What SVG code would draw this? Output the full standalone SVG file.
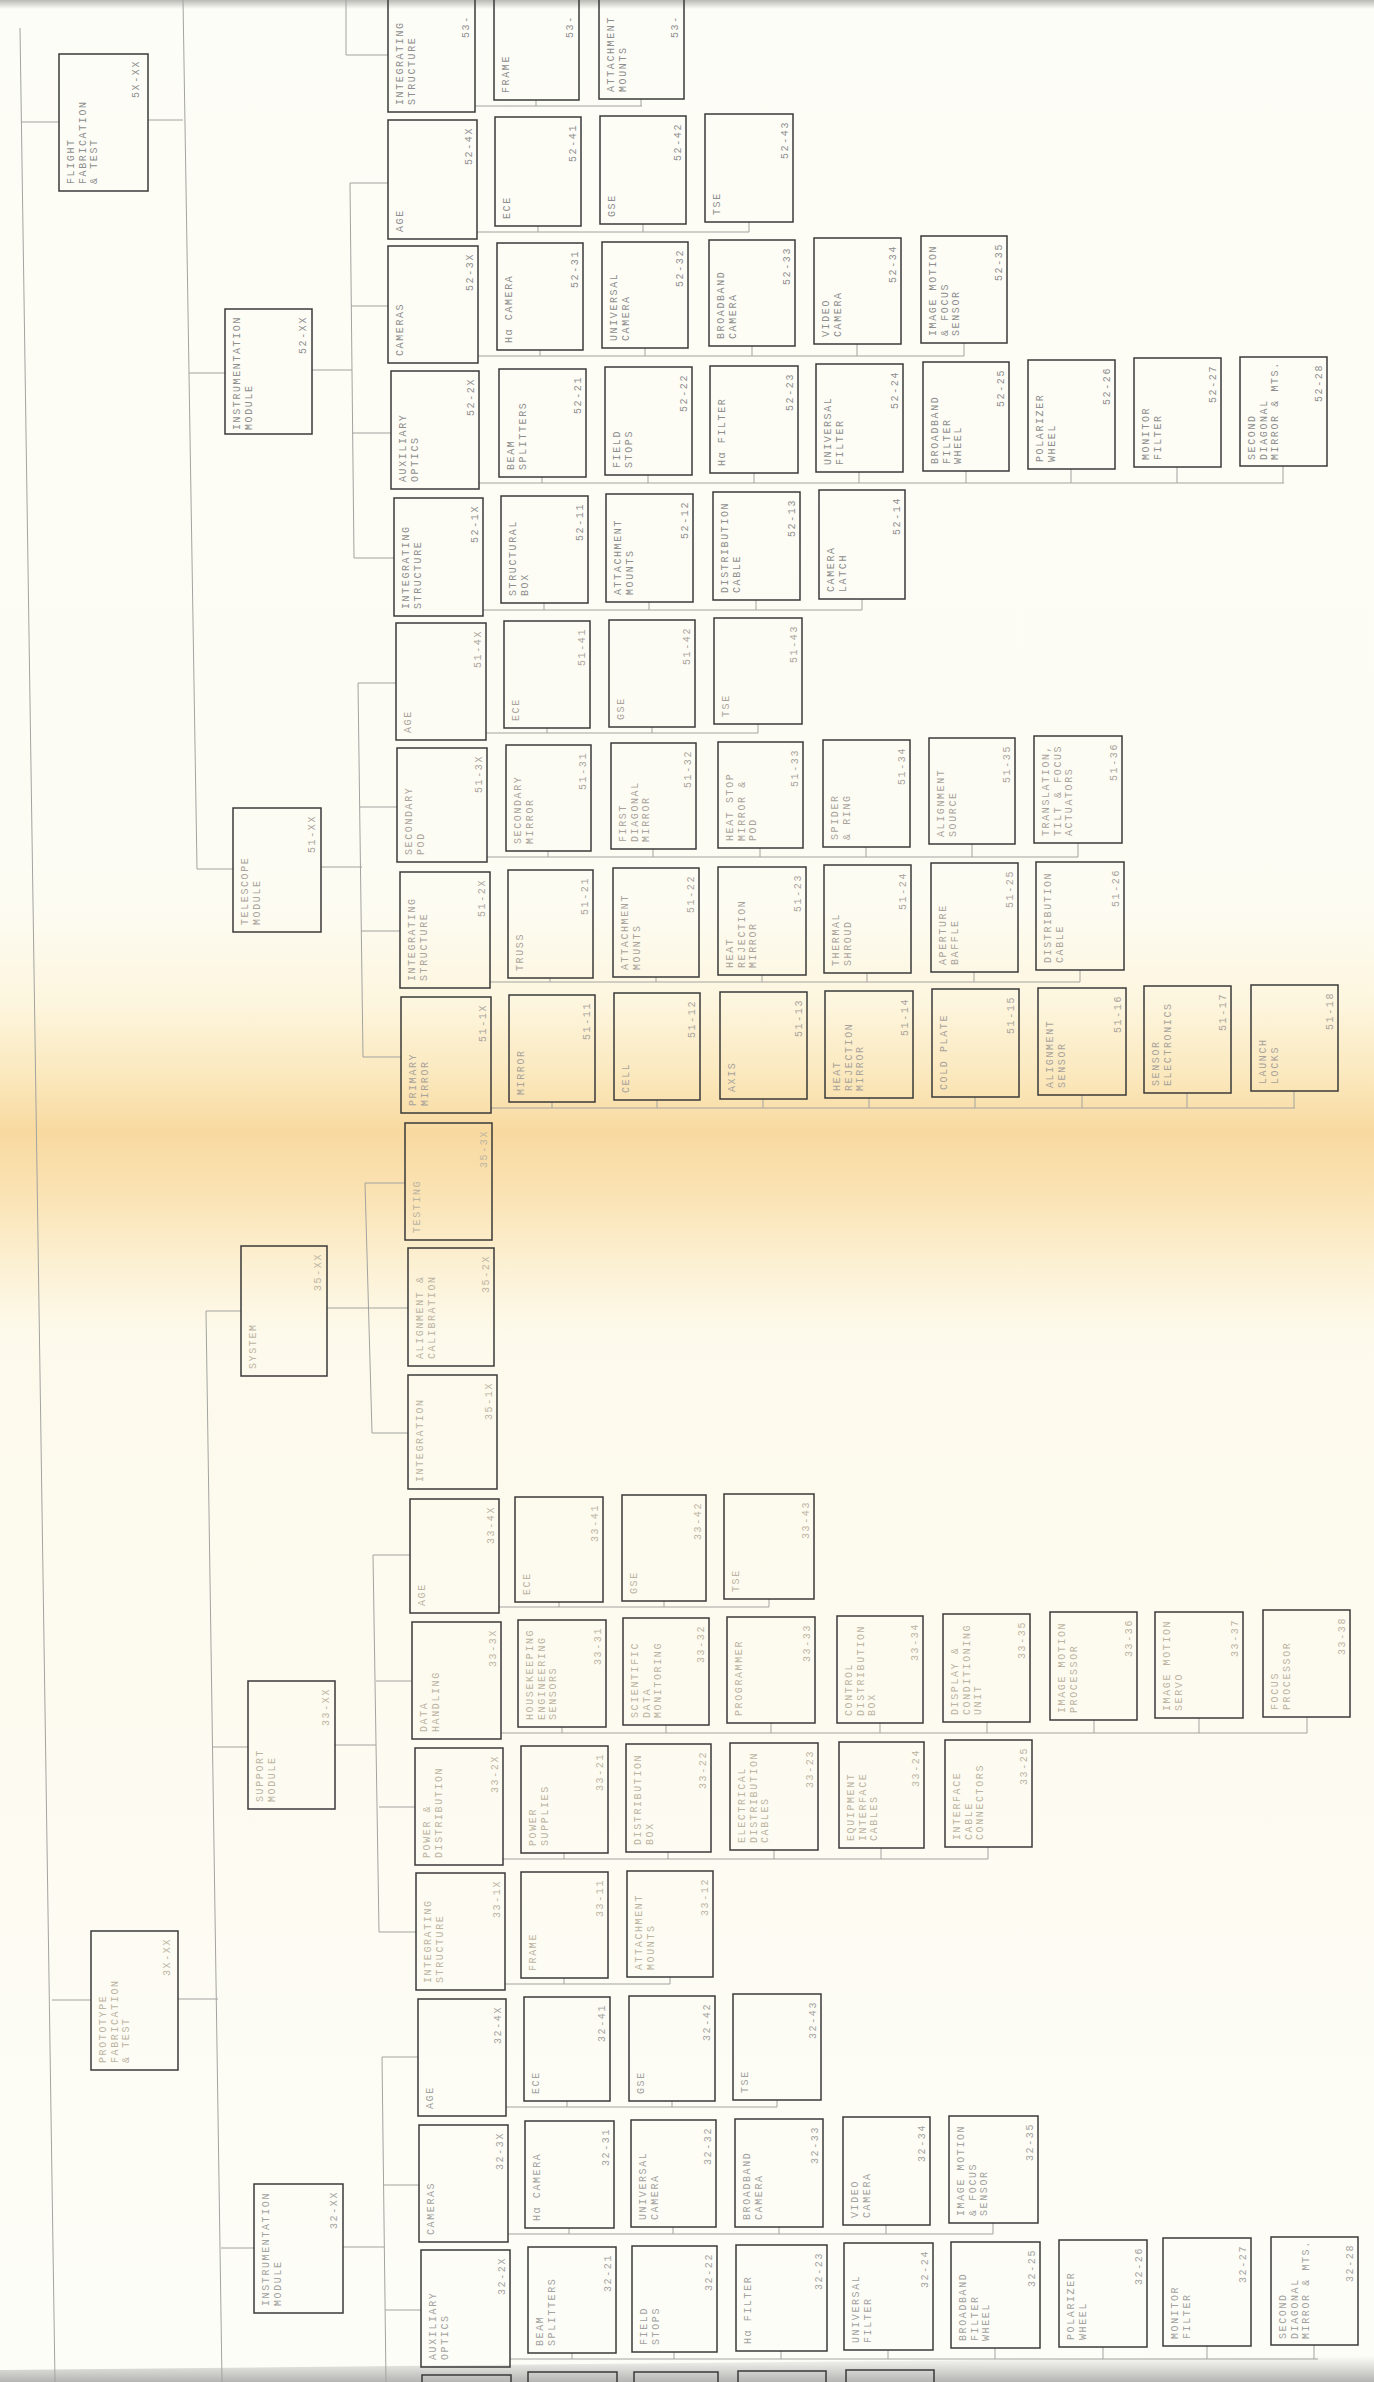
<svg xmlns="http://www.w3.org/2000/svg" width="1374" height="2382" viewBox="0 0 1374 2382">
<defs>
<linearGradient id="bg" x1="0" y1="0" x2="0" y2="1">
<stop offset="0" stop-color="#fdfdf7"/>
<stop offset="0.38" stop-color="#fdfcf3"/>
<stop offset="0.42" stop-color="#fdf6df"/>
<stop offset="0.45" stop-color="#fbe9bf"/>
<stop offset="0.475" stop-color="#f8daa0"/>
<stop offset="0.50" stop-color="#fae2b2"/>
<stop offset="0.53" stop-color="#fcf0d2"/>
<stop offset="0.56" stop-color="#fdfaec"/>
<stop offset="1" stop-color="#fdfdf8"/>
</linearGradient>
<linearGradient id="edgeT" x1="0" y1="0" x2="0" y2="1">
<stop offset="0" stop-color="#b9b9b5"/>
<stop offset="1" stop-color="#fdfdf7"/>
</linearGradient>
<linearGradient id="edgeB" x1="0" y1="0" x2="0" y2="1">
<stop offset="0" stop-color="#fdfdf8"/>
<stop offset="1" stop-color="#b5b6b3"/>
</linearGradient>
</defs>
<style>
.b{fill:none;stroke:#3a3a3a;stroke-width:1.5}
.t{font-family:"Liberation Mono",monospace;font-size:10px;letter-spacing:1.6px}
.ta{fill:#8e8e8e}
.tb{fill:#a9a39b}
.tc{fill:#bcb4a2}
.td{fill:#a2a2a0}
.ln{fill:none;stroke:#a3a3a0;stroke-width:1}
</style>
<rect x="0" y="0" width="1374" height="2382" fill="url(#bg)"/>
<rect x="0" y="0" width="1374" height="9" fill="url(#edgeT)"/>
<polygon points="0,2370 1374,2356 1374,2382 0,2382" fill="url(#edgeB)"/>

<g id="connectors" class="ln">
<path d="M20,28 L55,2382"/>
<path d="M21,122 H59 M148,120 H183"/>
<path d="M183,0 L197,869"/>
<path d="M189,373 H225 M312,370 H352"/>
<path d="M197,869 H233 M321,867 H362"/>
<path d="M346,0 V55 H388"/>
<path d="M475,106 H642 M536,100 V106 M641,99 V106"/>
<path d="M350,183 L354,558"/>
<path d="M350,183 H388 M351,306 H388 M352,433 H391 M354,558 H394"/>
<path d="M477,232 H749 M538,226 V232 M643,224 V232 M749,222 V232"/>
<path d="M478,356 H964 M540,350 V356 M645,348 V356 M752,346 V356 M857,344 V356 M964,343 V356"/>
<path d="M479,483 H1284 M542,477 V483 M648,475 V483 M754,473 V483 M859,472 V483 M966,471 V483 M1071,469 V483 M1177,467 V483 M1283,466 V483"/>
<path d="M483,610 H862 M544,603 V610 M649,602 V610 M756,600 V610 M862,599 V610"/>
<path d="M358,683 L363,1057"/>
<path d="M358,683 H396 M360,807 H397 M361,931 H400 M363,1057 H401"/>
<path d="M486,733 H758 M547,728 V733 M652,727 V733 M758,724 V733"/>
<path d="M487,857 H1078 M548,851 V857 M653,849 V857 M760,848 V857 M866,847 V857 M972,844 V857 M1078,843 V857"/>
<path d="M490,982 H1080 M550,978 V982 M656,977 V982 M762,975 V982 M867,973 V982 M974,972 V982 M1080,970 V982"/>
<path d="M491,1108 H1295 M552,1102 V1108 M657,1100 V1108 M763,1099 V1108 M869,1098 V1108 M975,1097 V1108 M1082,1095 V1108 M1187,1093 V1108 M1294,1091 V1108"/>
<path d="M206,1311 L222,2382"/>
<path d="M206,1311 H241"/>
<path d="M365,1183 L372,1433"/>
<path d="M365,1183 H405 M327,1308 H408 M372,1433 H408"/>
<path d="M213,1747 H248 M335,1745 H376"/>
<path d="M373,1555 L379,1932"/>
<path d="M373,1555 H410 M376,1681 H412 M379,1807 H415 M379,1932 H416"/>
<path d="M499,1607 H769 M559,1602 V1607 M664,1601 V1607 M769,1599 V1607"/>
<path d="M501,1733 H1307 M562,1727 V1733 M666,1725 V1733 M771,1723 V1733 M880,1723 V1733 M987,1722 V1733 M1094,1720 V1733 M1199,1718 V1733 M1307,1717 V1733"/>
<path d="M503,1859 H988 M564,1853 V1859 M668,1852 V1859 M774,1850 V1859 M881,1848 V1859 M988,1847 V1859"/>
<path d="M505,1984 H670 M564,1978 V1984 M670,1977 V1984"/>
<path d="M52,2000 H91 M178,1999 H218"/>
<path d="M221,2248 H254 M343,2247 H384"/>
<path d="M382,2057 L386,2382"/>
<path d="M382,2057 H418 M383,2185 H419 M385,2310 H421"/>
<path d="M506,2107 H777 M567,2101 V2107 M672,2101 V2107 M777,2100 V2107"/>
<path d="M508,2234 H993 M569,2228 V2234 M673,2227 V2234 M779,2227 V2234 M886,2225 V2234 M993,2223 V2234"/>
<path d="M510,2359 H1318 M572,2353 V2359 M674,2352 V2359 M781,2351 V2359 M888,2350 V2359 M995,2348 V2359 M1103,2347 V2359 M1207,2346 V2359 M1314,2345 V2359"/>
</g>

<!-- Level 1 -->
<g id="n5X-XX"><rect class="b" x="59" y="54" width="89" height="137"/><text class="t ta" transform="translate(74,184) rotate(-90)"><tspan x="0">FLIGHT</tspan><tspan x="0" dy="11.5">FABRICATION</tspan><tspan x="0" dy="11.5">&amp; TEST</tspan></text><text class="t ta" text-anchor="end" transform="translate(139,60) rotate(-90)">5X-XX</text></g>
<g id="n3X-XX"><rect class="b" x="91" y="1931" width="87" height="139"/><text class="t tc" transform="translate(106,2063) rotate(-90)"><tspan x="0">PROTOTYPE</tspan><tspan x="0" dy="11.5">FABRICATION</tspan><tspan x="0" dy="11.5">&amp; TEST</tspan></text><text class="t tc" text-anchor="end" transform="translate(170,1938) rotate(-90)">3X-XX</text></g>

<!-- Level 2 -->
<g id="n52-XX"><rect class="b" x="225" y="309" width="87" height="125"/><text class="t ta" transform="translate(240,430) rotate(-90)"><tspan x="0">INSTRUMENTATION</tspan><tspan x="0" dy="11.5">MODULE</tspan></text><text class="t ta" text-anchor="end" transform="translate(306,316) rotate(-90)">52-XX</text></g>
<g id="n51-XX"><rect class="b" x="233" y="808" width="88" height="124"/><text class="t tb" transform="translate(248,925) rotate(-90)"><tspan x="0">TELESCOPE</tspan><tspan x="0" dy="11.5">MODULE</tspan></text><text class="t tb" text-anchor="end" transform="translate(315,815) rotate(-90)">51-XX</text></g>
<g id="n35-XX"><rect class="b" x="241" y="1246" width="86" height="130"/><text class="t tc" transform="translate(256,1369) rotate(-90)">SYSTEM</text><text class="t tc" text-anchor="end" transform="translate(321,1253) rotate(-90)">35-XX</text></g>
<g id="n33-XX"><rect class="b" x="248" y="1681" width="87" height="128"/><text class="t tc" transform="translate(263,1802) rotate(-90)"><tspan x="0">SUPPORT</tspan><tspan x="0" dy="11.5">MODULE</tspan></text><text class="t tc" text-anchor="end" transform="translate(329,1688) rotate(-90)">33-XX</text></g>
<g id="n32-XX"><rect class="b" x="254" y="2184" width="89" height="129"/><text class="t td" transform="translate(269,2306) rotate(-90)"><tspan x="0">INSTRUMENTATION</tspan><tspan x="0" dy="11.5">MODULE</tspan></text><text class="t td" text-anchor="end" transform="translate(337,2191) rotate(-90)">32-XX</text></g>

<!-- Row 53 (cut) -->
<g id="n53-1X"><rect class="b" x="388" y="-6" width="87" height="118"/><text class="t ta" transform="translate(403,105) rotate(-90)"><tspan x="0">INTEGRATING</tspan><tspan x="0" dy="11.5">STRUCTURE</tspan></text><text class="t ta" transform="translate(469,38) rotate(-90)">53-</text></g>
<g id="n53-11"><rect class="b" x="494" y="-6" width="85" height="106"/><text class="t ta" transform="translate(509,93) rotate(-90)">FRAME</text><text class="t ta" transform="translate(573,38) rotate(-90)">53-</text></g>
<g id="n53-12"><rect class="b" x="599" y="-6" width="85" height="105"/><text class="t ta" transform="translate(614,92) rotate(-90)"><tspan x="0">ATTACHMENT</tspan><tspan x="0" dy="11.5">MOUNTS</tspan></text><text class="t ta" transform="translate(678,38) rotate(-90)">53-</text></g>

<!-- Row 52-4X -->
<g id="n52-4X"><rect class="b" x="388" y="120" width="89" height="119"/><text class="t ta" transform="translate(403,232) rotate(-90)">AGE</text><text class="t ta" text-anchor="end" transform="translate(472,127) rotate(-90)">52-4X</text></g>
<g id="n52-41"><rect class="b" x="495" y="117" width="86" height="109"/><text class="t ta" transform="translate(510,219) rotate(-90)">ECE</text><text class="t ta" text-anchor="end" transform="translate(576,124) rotate(-90)">52-41</text></g>
<g id="n52-42"><rect class="b" x="600" y="116" width="86" height="108"/><text class="t ta" transform="translate(615,217) rotate(-90)">GSE</text><text class="t ta" text-anchor="end" transform="translate(681,123) rotate(-90)">52-42</text></g>
<g id="n52-43"><rect class="b" x="705" y="114" width="88" height="108"/><text class="t ta" transform="translate(720,215) rotate(-90)">TSE</text><text class="t ta" text-anchor="end" transform="translate(788,121) rotate(-90)">52-43</text></g>

<!-- Row 52-3X -->
<g id="n52-3X"><rect class="b" x="388" y="246" width="90" height="117"/><text class="t ta" transform="translate(403,356) rotate(-90)">CAMERAS</text><text class="t ta" text-anchor="end" transform="translate(473,253) rotate(-90)">52-3X</text></g>
<g id="n52-31"><rect class="b" x="497" y="243" width="86" height="107"/><text class="t ta" transform="translate(512,343) rotate(-90)">Hα CAMERA</text><text class="t ta" text-anchor="end" transform="translate(578,250) rotate(-90)">52-31</text></g>
<g id="n52-32"><rect class="b" x="602" y="242" width="86" height="106"/><text class="t ta" transform="translate(617,341) rotate(-90)"><tspan x="0">UNIVERSAL</tspan><tspan x="0" dy="11.5">CAMERA</tspan></text><text class="t ta" text-anchor="end" transform="translate(683,249) rotate(-90)">52-32</text></g>
<g id="n52-33"><rect class="b" x="709" y="240" width="86" height="106"/><text class="t ta" transform="translate(724,339) rotate(-90)"><tspan x="0">BROADBAND</tspan><tspan x="0" dy="11.5">CAMERA</tspan></text><text class="t ta" text-anchor="end" transform="translate(790,247) rotate(-90)">52-33</text></g>
<g id="n52-34"><rect class="b" x="814" y="238" width="87" height="106"/><text class="t ta" transform="translate(829,337) rotate(-90)"><tspan x="0">VIDEO</tspan><tspan x="0" dy="11.5">CAMERA</tspan></text><text class="t ta" text-anchor="end" transform="translate(896,245) rotate(-90)">52-34</text></g>
<g id="n52-35"><rect class="b" x="921" y="236" width="86" height="107"/><text class="t ta" transform="translate(936,336) rotate(-90)"><tspan x="0">IMAGE MOTION</tspan><tspan x="0" dy="11.5">&amp; FOCUS</tspan><tspan x="0" dy="11.5">SENSOR</tspan></text><text class="t ta" text-anchor="end" transform="translate(1002,243) rotate(-90)">52-35</text></g>

<!-- Row 52-2X -->
<g id="n52-2X"><rect class="b" x="391" y="371" width="88" height="118"/><text class="t ta" transform="translate(406,482) rotate(-90)"><tspan x="0">AUXILIARY</tspan><tspan x="0" dy="11.5">OPTICS</tspan></text><text class="t ta" text-anchor="end" transform="translate(474,378) rotate(-90)">52-2X</text></g>
<g id="n52-21"><rect class="b" x="499" y="369" width="87" height="108"/><text class="t ta" transform="translate(514,470) rotate(-90)"><tspan x="0">BEAM</tspan><tspan x="0" dy="11.5">SPLITTERS</tspan></text><text class="t ta" text-anchor="end" transform="translate(581,376) rotate(-90)">52-21</text></g>
<g id="n52-22"><rect class="b" x="605" y="367" width="87" height="108"/><text class="t ta" transform="translate(620,468) rotate(-90)"><tspan x="0">FIELD</tspan><tspan x="0" dy="11.5">STOPS</tspan></text><text class="t ta" text-anchor="end" transform="translate(687,374) rotate(-90)">52-22</text></g>
<g id="n52-23"><rect class="b" x="710" y="366" width="88" height="107"/><text class="t ta" transform="translate(725,466) rotate(-90)">Hα FILTER</text><text class="t ta" text-anchor="end" transform="translate(793,373) rotate(-90)">52-23</text></g>
<g id="n52-24"><rect class="b" x="816" y="364" width="87" height="108"/><text class="t ta" transform="translate(831,465) rotate(-90)"><tspan x="0">UNIVERSAL</tspan><tspan x="0" dy="11.5">FILTER</tspan></text><text class="t ta" text-anchor="end" transform="translate(898,371) rotate(-90)">52-24</text></g>
<g id="n52-25"><rect class="b" x="923" y="362" width="86" height="109"/><text class="t ta" transform="translate(938,464) rotate(-90)"><tspan x="0">BROADBAND</tspan><tspan x="0" dy="11.5">FILTER</tspan><tspan x="0" dy="11.5">WHEEL</tspan></text><text class="t ta" text-anchor="end" transform="translate(1004,369) rotate(-90)">52-25</text></g>
<g id="n52-26"><rect class="b" x="1028" y="360" width="87" height="109"/><text class="t ta" transform="translate(1043,462) rotate(-90)"><tspan x="0">POLARIZER</tspan><tspan x="0" dy="11.5">WHEEL</tspan></text><text class="t ta" text-anchor="end" transform="translate(1110,367) rotate(-90)">52-26</text></g>
<g id="n52-27"><rect class="b" x="1134" y="358" width="87" height="109"/><text class="t ta" transform="translate(1149,460) rotate(-90)"><tspan x="0">MONITOR</tspan><tspan x="0" dy="11.5">FILTER</tspan></text><text class="t ta" text-anchor="end" transform="translate(1216,365) rotate(-90)">52-27</text></g>
<g id="n52-28"><rect class="b" x="1240" y="357" width="87" height="109"/><text class="t ta" transform="translate(1255,460) rotate(-90)"><tspan x="0">SECOND</tspan><tspan x="0" dy="11.5">DIAGONAL</tspan><tspan x="0" dy="11.5">MIRROR &amp; MTS.</tspan></text><text class="t ta" text-anchor="end" transform="translate(1322,364) rotate(-90)">52-28</text></g>

<!-- Row 52-1X -->
<g id="n52-1X"><rect class="b" x="394" y="498" width="89" height="118"/><text class="t ta" transform="translate(409,609) rotate(-90)"><tspan x="0">INTEGRATING</tspan><tspan x="0" dy="11.5">STRUCTURE</tspan></text><text class="t ta" text-anchor="end" transform="translate(478,505) rotate(-90)">52-1X</text></g>
<g id="n52-11"><rect class="b" x="501" y="496" width="87" height="107"/><text class="t ta" transform="translate(516,596) rotate(-90)"><tspan x="0">STRUCTURAL</tspan><tspan x="0" dy="11.5">BOX</tspan></text><text class="t ta" text-anchor="end" transform="translate(583,503) rotate(-90)">52-11</text></g>
<g id="n52-12"><rect class="b" x="606" y="494" width="87" height="108"/><text class="t ta" transform="translate(621,595) rotate(-90)"><tspan x="0">ATTACHMENT</tspan><tspan x="0" dy="11.5">MOUNTS</tspan></text><text class="t ta" text-anchor="end" transform="translate(688,501) rotate(-90)">52-12</text></g>
<g id="n52-13"><rect class="b" x="713" y="492" width="87" height="108"/><text class="t ta" transform="translate(728,593) rotate(-90)"><tspan x="0">DISTRIBUTION</tspan><tspan x="0" dy="11.5">CABLE</tspan></text><text class="t ta" text-anchor="end" transform="translate(795,499) rotate(-90)">52-13</text></g>
<g id="n52-14"><rect class="b" x="819" y="490" width="86" height="109"/><text class="t ta" transform="translate(834,592) rotate(-90)"><tspan x="0">CAMERA</tspan><tspan x="0" dy="11.5">LATCH</tspan></text><text class="t ta" text-anchor="end" transform="translate(900,497) rotate(-90)">52-14</text></g>

<!-- Row 51-4X -->
<g id="n51-4X"><rect class="b" x="396" y="623" width="90" height="117"/><text class="t tb" transform="translate(411,733) rotate(-90)">AGE</text><text class="t tb" text-anchor="end" transform="translate(481,630) rotate(-90)">51-4X</text></g>
<g id="n51-41"><rect class="b" x="504" y="621" width="86" height="107"/><text class="t tb" transform="translate(519,721) rotate(-90)">ECE</text><text class="t tb" text-anchor="end" transform="translate(585,628) rotate(-90)">51-41</text></g>
<g id="n51-42"><rect class="b" x="609" y="620" width="86" height="107"/><text class="t tb" transform="translate(624,720) rotate(-90)">GSE</text><text class="t tb" text-anchor="end" transform="translate(690,627) rotate(-90)">51-42</text></g>
<g id="n51-43"><rect class="b" x="714" y="618" width="88" height="106"/><text class="t tb" transform="translate(729,717) rotate(-90)">TSE</text><text class="t tb" text-anchor="end" transform="translate(797,625) rotate(-90)">51-43</text></g>

<!-- Row 51-3X -->
<g id="n51-3X"><rect class="b" x="397" y="748" width="90" height="114"/><text class="t tb" transform="translate(412,855) rotate(-90)"><tspan x="0">SECONDARY</tspan><tspan x="0" dy="11.5">POD</tspan></text><text class="t tb" text-anchor="end" transform="translate(482,755) rotate(-90)">51-3X</text></g>
<g id="n51-31"><rect class="b" x="506" y="745" width="85" height="106"/><text class="t tb" transform="translate(521,844) rotate(-90)"><tspan x="0">SECONDARY</tspan><tspan x="0" dy="11.5">MIRROR</tspan></text><text class="t tb" text-anchor="end" transform="translate(586,752) rotate(-90)">51-31</text></g>
<g id="n51-32"><rect class="b" x="611" y="743" width="85" height="106"/><text class="t tb" transform="translate(626,842) rotate(-90)"><tspan x="0">FIRST</tspan><tspan x="0" dy="11.5">DIAGONAL</tspan><tspan x="0" dy="11.5">MIRROR</tspan></text><text class="t tb" text-anchor="end" transform="translate(691,750) rotate(-90)">51-32</text></g>
<g id="n51-33"><rect class="b" x="718" y="742" width="85" height="106"/><text class="t tb" transform="translate(733,841) rotate(-90)"><tspan x="0">HEAT STOP</tspan><tspan x="0" dy="11.5">MIRROR &amp;</tspan><tspan x="0" dy="11.5">POD</tspan></text><text class="t tb" text-anchor="end" transform="translate(798,749) rotate(-90)">51-33</text></g>
<g id="n51-34"><rect class="b" x="823" y="740" width="87" height="107"/><text class="t tb" transform="translate(838,840) rotate(-90)"><tspan x="0">SPIDER</tspan><tspan x="0" dy="11.5">&amp; RING</tspan></text><text class="t tb" text-anchor="end" transform="translate(905,747) rotate(-90)">51-34</text></g>
<g id="n51-35"><rect class="b" x="929" y="738" width="86" height="106"/><text class="t tb" transform="translate(944,837) rotate(-90)"><tspan x="0">ALIGNMENT</tspan><tspan x="0" dy="11.5">SOURCE</tspan></text><text class="t tb" text-anchor="end" transform="translate(1010,745) rotate(-90)">51-35</text></g>
<g id="n51-36"><rect class="b" x="1034" y="736" width="88" height="107"/><text class="t tb" transform="translate(1049,836) rotate(-90)"><tspan x="0">TRANSLATION,</tspan><tspan x="0" dy="11.5">TILT &amp; FOCUS</tspan><tspan x="0" dy="11.5">ACTUATORS</tspan></text><text class="t tb" text-anchor="end" transform="translate(1117,743) rotate(-90)">51-36</text></g>

<!-- Row 51-2X -->
<g id="n51-2X"><rect class="b" x="400" y="872" width="90" height="116"/><text class="t tb" transform="translate(415,981) rotate(-90)"><tspan x="0">INTEGRATING</tspan><tspan x="0" dy="11.5">STRUCTURE</tspan></text><text class="t tb" text-anchor="end" transform="translate(485,879) rotate(-90)">51-2X</text></g>
<g id="n51-21"><rect class="b" x="508" y="870" width="85" height="108"/><text class="t tb" transform="translate(523,971) rotate(-90)">TRUSS</text><text class="t tb" text-anchor="end" transform="translate(588,877) rotate(-90)">51-21</text></g>
<g id="n51-22"><rect class="b" x="613" y="868" width="86" height="109"/><text class="t tb" transform="translate(628,970) rotate(-90)"><tspan x="0">ATTACHMENT</tspan><tspan x="0" dy="11.5">MOUNTS</tspan></text><text class="t tb" text-anchor="end" transform="translate(694,875) rotate(-90)">51-22</text></g>
<g id="n51-23"><rect class="b" x="718" y="867" width="88" height="108"/><text class="t tb" transform="translate(733,968) rotate(-90)"><tspan x="0">HEAT</tspan><tspan x="0" dy="11.5">REJECTION</tspan><tspan x="0" dy="11.5">MIRROR</tspan></text><text class="t tb" text-anchor="end" transform="translate(801,874) rotate(-90)">51-23</text></g>
<g id="n51-24"><rect class="b" x="824" y="865" width="87" height="108"/><text class="t tb" transform="translate(839,966) rotate(-90)"><tspan x="0">THERMAL</tspan><tspan x="0" dy="11.5">SHROUD</tspan></text><text class="t tb" text-anchor="end" transform="translate(906,872) rotate(-90)">51-24</text></g>
<g id="n51-25"><rect class="b" x="931" y="863" width="87" height="109"/><text class="t tb" transform="translate(946,965) rotate(-90)"><tspan x="0">APERTURE</tspan><tspan x="0" dy="11.5">BAFFLE</tspan></text><text class="t tb" text-anchor="end" transform="translate(1013,870) rotate(-90)">51-25</text></g>
<g id="n51-26"><rect class="b" x="1036" y="862" width="88" height="108"/><text class="t tb" transform="translate(1051,963) rotate(-90)"><tspan x="0">DISTRIBUTION</tspan><tspan x="0" dy="11.5">CABLE</tspan></text><text class="t tb" text-anchor="end" transform="translate(1119,869) rotate(-90)">51-26</text></g>

<!-- Row 51-1X -->
<g id="n51-1X"><rect class="b" x="401" y="997" width="90" height="116"/><text class="t tb" transform="translate(416,1106) rotate(-90)"><tspan x="0">PRIMARY</tspan><tspan x="0" dy="11.5">MIRROR</tspan></text><text class="t tb" text-anchor="end" transform="translate(486,1004) rotate(-90)">51-1X</text></g>
<g id="n51-11"><rect class="b" x="509" y="995" width="86" height="107"/><text class="t tb" transform="translate(524,1095) rotate(-90)">MIRROR</text><text class="t tb" text-anchor="end" transform="translate(590,1002) rotate(-90)">51-11</text></g>
<g id="n51-12"><rect class="b" x="614" y="993" width="86" height="107"/><text class="t tb" transform="translate(629,1093) rotate(-90)">CELL</text><text class="t tb" text-anchor="end" transform="translate(695,1000) rotate(-90)">51-12</text></g>
<g id="n51-13"><rect class="b" x="720" y="992" width="87" height="107"/><text class="t tb" transform="translate(735,1092) rotate(-90)">AXIS</text><text class="t tb" text-anchor="end" transform="translate(802,999) rotate(-90)">51-13</text></g>
<g id="n51-14"><rect class="b" x="825" y="991" width="88" height="107"/><text class="t tb" transform="translate(840,1091) rotate(-90)"><tspan x="0">HEAT</tspan><tspan x="0" dy="11.5">REJECTION</tspan><tspan x="0" dy="11.5">MIRROR</tspan></text><text class="t tb" text-anchor="end" transform="translate(908,998) rotate(-90)">51-14</text></g>
<g id="n51-15"><rect class="b" x="932" y="989" width="87" height="108"/><text class="t tb" transform="translate(947,1090) rotate(-90)">COLD PLATE</text><text class="t tb" text-anchor="end" transform="translate(1014,996) rotate(-90)">51-15</text></g>
<g id="n51-16"><rect class="b" x="1038" y="988" width="88" height="107"/><text class="t tb" transform="translate(1053,1088) rotate(-90)"><tspan x="0">ALIGNMENT</tspan><tspan x="0" dy="11.5">SENSOR</tspan></text><text class="t tb" text-anchor="end" transform="translate(1121,995) rotate(-90)">51-16</text></g>
<g id="n51-17"><rect class="b" x="1144" y="986" width="87" height="107"/><text class="t tb" transform="translate(1159,1086) rotate(-90)"><tspan x="0">SENSOR</tspan><tspan x="0" dy="11.5">ELECTRONICS</tspan></text><text class="t tb" text-anchor="end" transform="translate(1226,993) rotate(-90)">51-17</text></g>
<g id="n51-18"><rect class="b" x="1251" y="985" width="87" height="106"/><text class="t tb" transform="translate(1266,1084) rotate(-90)"><tspan x="0">LAUNCH</tspan><tspan x="0" dy="11.5">LOCKS</tspan></text><text class="t tb" text-anchor="end" transform="translate(1333,992) rotate(-90)">51-18</text></g>

<!-- System 35 -->
<g id="n35-3X"><rect class="b" x="405" y="1123" width="87" height="117"/><text class="t tc" transform="translate(420,1233) rotate(-90)">TESTING</text><text class="t tc" text-anchor="end" transform="translate(487,1130) rotate(-90)">35-3X</text></g>
<g id="n35-2X"><rect class="b" x="408" y="1248" width="86" height="118"/><text class="t tc" transform="translate(423,1359) rotate(-90)"><tspan x="0">ALIGNMENT &amp;</tspan><tspan x="0" dy="11.5">CALIBRATION</tspan></text><text class="t tc" text-anchor="end" transform="translate(489,1255) rotate(-90)">35-2X</text></g>
<g id="n35-1X"><rect class="b" x="408" y="1375" width="89" height="114"/><text class="t tc" transform="translate(423,1482) rotate(-90)">INTEGRATION</text><text class="t tc" text-anchor="end" transform="translate(492,1382) rotate(-90)">35-1X</text></g>

<!-- Row 33-4X -->
<g id="n33-4X"><rect class="b" x="410" y="1499" width="89" height="114"/><text class="t tc" transform="translate(425,1606) rotate(-90)">AGE</text><text class="t tc" text-anchor="end" transform="translate(494,1506) rotate(-90)">33-4X</text></g>
<g id="n33-41"><rect class="b" x="515" y="1497" width="88" height="105"/><text class="t tc" transform="translate(530,1595) rotate(-90)">ECE</text><text class="t tc" text-anchor="end" transform="translate(598,1504) rotate(-90)">33-41</text></g>
<g id="n33-42"><rect class="b" x="622" y="1495" width="84" height="106"/><text class="t tc" transform="translate(637,1594) rotate(-90)">GSE</text><text class="t tc" text-anchor="end" transform="translate(701,1502) rotate(-90)">33-42</text></g>
<g id="n33-43"><rect class="b" x="724" y="1494" width="90" height="105"/><text class="t tc" transform="translate(739,1592) rotate(-90)">TSE</text><text class="t tc" text-anchor="end" transform="translate(809,1501) rotate(-90)">33-43</text></g>

<!-- Row 33-3X -->
<g id="n33-3X"><rect class="b" x="412" y="1622" width="89" height="117"/><text class="t tc" transform="translate(427,1732) rotate(-90)"><tspan x="0">DATA</tspan><tspan x="0" dy="11.5">HANDLING</tspan></text><text class="t tc" text-anchor="end" transform="translate(496,1629) rotate(-90)">33-3X</text></g>
<g id="n33-31"><rect class="b" x="518" y="1620" width="88" height="107"/><text class="t tc" transform="translate(533,1720) rotate(-90)"><tspan x="0">HOUSEKEEPING</tspan><tspan x="0" dy="11.5">ENGINEERING</tspan><tspan x="0" dy="11.5">SENSORS</tspan></text><text class="t tc" text-anchor="end" transform="translate(601,1627) rotate(-90)">33-31</text></g>
<g id="n33-32"><rect class="b" x="623" y="1618" width="86" height="107"/><text class="t tc" transform="translate(638,1718) rotate(-90)"><tspan x="0">SCIENTIFIC</tspan><tspan x="0" dy="11.5">DATA</tspan><tspan x="0" dy="11.5">MONITORING</tspan></text><text class="t tc" text-anchor="end" transform="translate(704,1625) rotate(-90)">33-32</text></g>
<g id="n33-33"><rect class="b" x="727" y="1617" width="88" height="106"/><text class="t tc" transform="translate(742,1716) rotate(-90)">PROGRAMMER</text><text class="t tc" text-anchor="end" transform="translate(810,1624) rotate(-90)">33-33</text></g>
<g id="n33-34"><rect class="b" x="837" y="1616" width="86" height="107"/><text class="t tc" transform="translate(852,1716) rotate(-90)"><tspan x="0">CONTROL</tspan><tspan x="0" dy="11.5">DISTRIBUTION</tspan><tspan x="0" dy="11.5">BOX</tspan></text><text class="t tc" text-anchor="end" transform="translate(918,1623) rotate(-90)">33-34</text></g>
<g id="n33-35"><rect class="b" x="943" y="1614" width="87" height="108"/><text class="t tc" transform="translate(958,1715) rotate(-90)"><tspan x="0">DISPLAY &amp;</tspan><tspan x="0" dy="11.5">CONDITIONING</tspan><tspan x="0" dy="11.5">UNIT</tspan></text><text class="t tc" text-anchor="end" transform="translate(1025,1621) rotate(-90)">33-35</text></g>
<g id="n33-36"><rect class="b" x="1050" y="1612" width="87" height="108"/><text class="t tc" transform="translate(1065,1713) rotate(-90)"><tspan x="0">IMAGE MOTION</tspan><tspan x="0" dy="11.5">PROCESSOR</tspan></text><text class="t tc" text-anchor="end" transform="translate(1132,1619) rotate(-90)">33-36</text></g>
<g id="n33-37"><rect class="b" x="1155" y="1612" width="88" height="106"/><text class="t tc" transform="translate(1170,1711) rotate(-90)"><tspan x="0">IMAGE MOTION</tspan><tspan x="0" dy="11.5">SERVO</tspan></text><text class="t tc" text-anchor="end" transform="translate(1238,1619) rotate(-90)">33-37</text></g>
<g id="n33-38"><rect class="b" x="1263" y="1610" width="87" height="107"/><text class="t tc" transform="translate(1278,1710) rotate(-90)"><tspan x="0">FOCUS</tspan><tspan x="0" dy="11.5">PROCESSOR</tspan></text><text class="t tc" text-anchor="end" transform="translate(1345,1617) rotate(-90)">33-38</text></g>

<!-- Row 33-2X -->
<g id="n33-2X"><rect class="b" x="415" y="1748" width="88" height="117"/><text class="t tc" transform="translate(430,1858) rotate(-90)"><tspan x="0">POWER &amp;</tspan><tspan x="0" dy="11.5">DISTRIBUTION</tspan></text><text class="t tc" text-anchor="end" transform="translate(498,1755) rotate(-90)">33-2X</text></g>
<g id="n33-21"><rect class="b" x="521" y="1746" width="87" height="107"/><text class="t tc" transform="translate(536,1846) rotate(-90)"><tspan x="0">POWER</tspan><tspan x="0" dy="11.5">SUPPLIES</tspan></text><text class="t tc" text-anchor="end" transform="translate(603,1753) rotate(-90)">33-21</text></g>
<g id="n33-22"><rect class="b" x="626" y="1744" width="85" height="108"/><text class="t tc" transform="translate(641,1845) rotate(-90)"><tspan x="0">DISTRIBUTION</tspan><tspan x="0" dy="11.5">BOX</tspan></text><text class="t tc" text-anchor="end" transform="translate(706,1751) rotate(-90)">33-22</text></g>
<g id="n33-23"><rect class="b" x="730" y="1743" width="88" height="107"/><text class="t tc" transform="translate(745,1843) rotate(-90)"><tspan x="0">ELECTRICAL</tspan><tspan x="0" dy="11.5">DISTRIBUTION</tspan><tspan x="0" dy="11.5">CABLES</tspan></text><text class="t tc" text-anchor="end" transform="translate(813,1750) rotate(-90)">33-23</text></g>
<g id="n33-24"><rect class="b" x="839" y="1742" width="85" height="106"/><text class="t tc" transform="translate(854,1841) rotate(-90)"><tspan x="0">EQUIPMENT</tspan><tspan x="0" dy="11.5">INTERFACE</tspan><tspan x="0" dy="11.5">CABLES</tspan></text><text class="t tc" text-anchor="end" transform="translate(919,1749) rotate(-90)">33-24</text></g>
<g id="n33-25"><rect class="b" x="945" y="1740" width="87" height="107"/><text class="t tc" transform="translate(960,1840) rotate(-90)"><tspan x="0">INTERFACE</tspan><tspan x="0" dy="11.5">CABLE</tspan><tspan x="0" dy="11.5">CONNECTORS</tspan></text><text class="t tc" text-anchor="end" transform="translate(1027,1747) rotate(-90)">33-25</text></g>

<!-- Row 33-1X -->
<g id="n33-1X"><rect class="b" x="416" y="1873" width="89" height="117"/><text class="t tc" transform="translate(431,1983) rotate(-90)"><tspan x="0">INTEGRATING</tspan><tspan x="0" dy="11.5">STRUCTURE</tspan></text><text class="t tc" text-anchor="end" transform="translate(500,1880) rotate(-90)">33-1X</text></g>
<g id="n33-11"><rect class="b" x="521" y="1872" width="87" height="106"/><text class="t tc" transform="translate(536,1971) rotate(-90)">FRAME</text><text class="t tc" text-anchor="end" transform="translate(603,1879) rotate(-90)">33-11</text></g>
<g id="n33-12"><rect class="b" x="627" y="1871" width="86" height="106"/><text class="t tc" transform="translate(642,1970) rotate(-90)"><tspan x="0">ATTACHMENT</tspan><tspan x="0" dy="11.5">MOUNTS</tspan></text><text class="t tc" text-anchor="end" transform="translate(708,1878) rotate(-90)">33-12</text></g>

<!-- Row 32-4X -->
<g id="n32-4X"><rect class="b" x="418" y="1999" width="88" height="117"/><text class="t td" transform="translate(433,2109) rotate(-90)">AGE</text><text class="t td" text-anchor="end" transform="translate(501,2006) rotate(-90)">32-4X</text></g>
<g id="n32-41"><rect class="b" x="524" y="1997" width="86" height="104"/><text class="t td" transform="translate(539,2094) rotate(-90)">ECE</text><text class="t td" text-anchor="end" transform="translate(605,2004) rotate(-90)">32-41</text></g>
<g id="n32-42"><rect class="b" x="629" y="1996" width="86" height="105"/><text class="t td" transform="translate(644,2094) rotate(-90)">GSE</text><text class="t td" text-anchor="end" transform="translate(710,2003) rotate(-90)">32-42</text></g>
<g id="n32-43"><rect class="b" x="733" y="1994" width="88" height="106"/><text class="t td" transform="translate(748,2093) rotate(-90)">TSE</text><text class="t td" text-anchor="end" transform="translate(816,2001) rotate(-90)">32-43</text></g>

<!-- Row 32-3X -->
<g id="n32-3X"><rect class="b" x="419" y="2125" width="89" height="117"/><text class="t td" transform="translate(434,2235) rotate(-90)">CAMERAS</text><text class="t td" text-anchor="end" transform="translate(503,2132) rotate(-90)">32-3X</text></g>
<g id="n32-31"><rect class="b" x="525" y="2121" width="89" height="107"/><text class="t td" transform="translate(540,2221) rotate(-90)">Hα CAMERA</text><text class="t td" text-anchor="end" transform="translate(609,2128) rotate(-90)">32-31</text></g>
<g id="n32-32"><rect class="b" x="631" y="2120" width="85" height="107"/><text class="t td" transform="translate(646,2220) rotate(-90)"><tspan x="0">UNIVERSAL</tspan><tspan x="0" dy="11.5">CAMERA</tspan></text><text class="t td" text-anchor="end" transform="translate(711,2127) rotate(-90)">32-32</text></g>
<g id="n32-33"><rect class="b" x="735" y="2119" width="88" height="108"/><text class="t td" transform="translate(750,2220) rotate(-90)"><tspan x="0">BROADBAND</tspan><tspan x="0" dy="11.5">CAMERA</tspan></text><text class="t td" text-anchor="end" transform="translate(818,2126) rotate(-90)">32-33</text></g>
<g id="n32-34"><rect class="b" x="843" y="2117" width="87" height="108"/><text class="t td" transform="translate(858,2218) rotate(-90)"><tspan x="0">VIDEO</tspan><tspan x="0" dy="11.5">CAMERA</tspan></text><text class="t td" text-anchor="end" transform="translate(925,2124) rotate(-90)">32-34</text></g>
<g id="n32-35"><rect class="b" x="949" y="2116" width="89" height="107"/><text class="t td" transform="translate(964,2216) rotate(-90)"><tspan x="0">IMAGE MOTION</tspan><tspan x="0" dy="11.5">&amp; FOCUS</tspan><tspan x="0" dy="11.5">SENSOR</tspan></text><text class="t td" text-anchor="end" transform="translate(1033,2123) rotate(-90)">32-35</text></g>

<!-- Row 32-2X -->
<g id="n32-2X"><rect class="b" x="421" y="2250" width="89" height="117"/><text class="t td" transform="translate(436,2360) rotate(-90)"><tspan x="0">AUXILIARY</tspan><tspan x="0" dy="11.5">OPTICS</tspan></text><text class="t td" text-anchor="end" transform="translate(505,2257) rotate(-90)">32-2X</text></g>
<g id="n32-21"><rect class="b" x="528" y="2247" width="88" height="106"/><text class="t td" transform="translate(543,2346) rotate(-90)"><tspan x="0">BEAM</tspan><tspan x="0" dy="11.5">SPLITTERS</tspan></text><text class="t td" text-anchor="end" transform="translate(611,2254) rotate(-90)">32-21</text></g>
<g id="n32-22"><rect class="b" x="632" y="2246" width="85" height="106"/><text class="t td" transform="translate(647,2345) rotate(-90)"><tspan x="0">FIELD</tspan><tspan x="0" dy="11.5">STOPS</tspan></text><text class="t td" text-anchor="end" transform="translate(712,2253) rotate(-90)">32-22</text></g>
<g id="n32-23"><rect class="b" x="736" y="2245" width="91" height="106"/><text class="t td" transform="translate(751,2344) rotate(-90)">Hα FILTER</text><text class="t td" text-anchor="end" transform="translate(822,2252) rotate(-90)">32-23</text></g>
<g id="n32-24"><rect class="b" x="844" y="2243" width="89" height="107"/><text class="t td" transform="translate(859,2343) rotate(-90)"><tspan x="0">UNIVERSAL</tspan><tspan x="0" dy="11.5">FILTER</tspan></text><text class="t td" text-anchor="end" transform="translate(928,2250) rotate(-90)">32-24</text></g>
<g id="n32-25"><rect class="b" x="951" y="2242" width="89" height="106"/><text class="t td" transform="translate(966,2341) rotate(-90)"><tspan x="0">BROADBAND</tspan><tspan x="0" dy="11.5">FILTER</tspan><tspan x="0" dy="11.5">WHEEL</tspan></text><text class="t td" text-anchor="end" transform="translate(1035,2249) rotate(-90)">32-25</text></g>
<g id="n32-26"><rect class="b" x="1059" y="2240" width="88" height="107"/><text class="t td" transform="translate(1074,2340) rotate(-90)"><tspan x="0">POLARIZER</tspan><tspan x="0" dy="11.5">WHEEL</tspan></text><text class="t td" text-anchor="end" transform="translate(1142,2247) rotate(-90)">32-26</text></g>
<g id="n32-27"><rect class="b" x="1163" y="2238" width="88" height="108"/><text class="t td" transform="translate(1178,2339) rotate(-90)"><tspan x="0">MONITOR</tspan><tspan x="0" dy="11.5">FILTER</tspan></text><text class="t td" text-anchor="end" transform="translate(1246,2245) rotate(-90)">32-27</text></g>
<g id="n32-28"><rect class="b" x="1271" y="2237" width="87" height="108"/><text class="t td" transform="translate(1286,2339) rotate(-90)"><tspan x="0">SECOND</tspan><tspan x="0" dy="11.5">DIAGONAL</tspan><tspan x="0" dy="11.5">MIRROR &amp; MTS.</tspan></text><text class="t td" text-anchor="end" transform="translate(1353,2244) rotate(-90)">32-28</text></g>

<!-- Row cut at bottom -->
<g id="cut-row">
<rect class="b" x="422" y="2375" width="89" height="30"/>
<rect class="b" x="528" y="2372" width="89" height="30"/>
<rect class="b" x="634" y="2372" width="84" height="30"/>
<rect class="b" x="738" y="2371" width="88" height="30"/>
<rect class="b" x="846" y="2370" width="88" height="30"/>
</g>
</svg>
